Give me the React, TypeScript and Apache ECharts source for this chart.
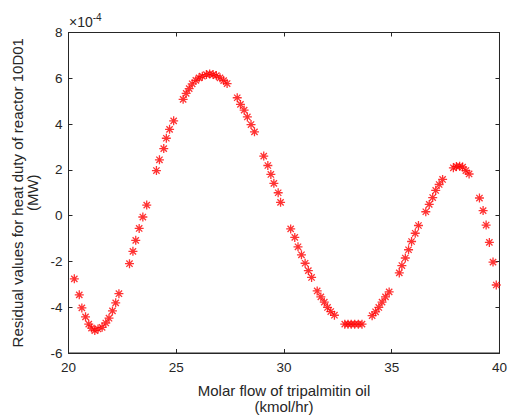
import React, { useEffect, useRef } from "react";
import * as echarts from "echarts";

// Molar flow of tripalmitin oil (kmol/hr)
const flow: number[] = [
  20.27, 20.50, 20.62, 20.79, 20.94, 21.07, 21.22, 21.37, 21.56, 21.73, 21.88, 22.04, 22.19, 22.34,
  22.83, 22.99, 23.12, 23.28, 23.45, 23.63,
  24.08, 24.22, 24.42, 24.54, 24.69, 24.88,
  25.32, 25.46, 25.60, 25.74, 25.91, 26.06, 26.21, 26.40, 26.55, 26.71, 26.86, 27.03, 27.20, 27.36,
  27.83, 27.98, 28.15, 28.30, 28.47, 28.63,
  29.06, 29.25, 29.39, 29.53, 29.73, 29.84,
  30.31, 30.50, 30.65, 30.81, 30.98, 31.13, 31.28,
  31.54, 31.71, 31.87, 32.02, 32.17, 32.34,
  32.82, 32.97, 33.12, 33.28, 33.45, 33.62,
  34.09, 34.25, 34.40, 34.55, 34.71, 34.88,
  35.35, 35.47, 35.63, 35.78, 35.92, 36.09, 36.24,
  36.58, 36.74, 36.90, 37.04, 37.20, 37.36,
  37.86, 38.00, 38.15, 38.29, 38.44, 38.59,
  39.07, 39.24, 39.38, 39.53, 39.70, 39.85,
];

// Residual values for heat duty (MW), in units of 1e-4
const residual: number[] = [
  -2.76, -3.46, -4.03, -4.42, -4.74, -4.91, -5.02, -4.95, -4.88, -4.69, -4.48, -4.16, -3.81, -3.41,
  -2.10, -1.56, -1.08, -0.56, -0.06, 0.46,
  1.97, 2.44, 2.93, 3.38, 3.77, 4.14,
  5.08, 5.34, 5.55, 5.76, 5.91, 6.02, 6.09, 6.16, 6.19, 6.16, 6.12, 6.02, 5.90, 5.77,
  5.15, 4.86, 4.61, 4.31, 3.98, 3.66,
  2.60, 2.19, 1.80, 1.41, 1.00, 0.58,
  -0.58, -0.95, -1.36, -1.71, -2.08, -2.40, -2.70,
  -3.29, -3.55, -3.78, -4.01, -4.19, -4.35,
  -4.74, -4.74, -4.74, -4.74, -4.74, -4.74,
  -4.37, -4.20, -4.01, -3.78, -3.55, -3.33,
  -2.50, -2.18, -1.85, -1.49, -1.13, -0.77, -0.43,
  0.17, 0.49, 0.79, 1.10, 1.36, 1.58,
  2.09, 2.15, 2.16, 2.12, 1.97, 1.82,
  0.77, 0.22, -0.41, -1.17, -2.03, -3.03,
];

const xTicks = { min: 20, max: 40, interval: 5 };
const yTicks = { min: -6, max: 8, interval: 2 };

const xLabel = "Molar flow of tripalmitin oil\n(kmol/hr)";
const yLabel = "Residual values for heat duty of reactor 10D01\n(MW)";

const AXIS = "#262626";
const FONT = "Liberation Sans, Arial, Helvetica, sans-serif";
const STAR = "path://M0,5 L10,5 M5,0 L5,10 M1.5,1.5 L8.5,8.5 M8.5,1.5 L1.5,8.5";

export default function App() {
  const ref = useRef<HTMLDivElement>(null);
  useEffect(() => {
    if (!ref.current) return;
    const chart = echarts.init(ref.current, undefined, { renderer: "svg" });
    const data = flow.map((x, i) => [x, residual[i]]);
    const hiddenLabel = { show: false };
    const tick = { show: true, inside: true, length: 4, lineStyle: { color: AXIS } };
    const line = { show: true, onZero: false, lineStyle: { color: AXIS } };
    chart.setOption({
      animation: false,
      backgroundColor: "#ffffff",
      textStyle: { fontFamily: FONT },
      grid: {
        left: 68.5,
        right: 8,
        top: 32.5,
        bottom: 63,
        show: true,
        borderColor: AXIS,
        borderWidth: 1,
        backgroundColor: "#ffffff",
      },
      xAxis: [
        {
          type: "value",
          min: xTicks.min,
          max: xTicks.max,
          interval: xTicks.interval,
          position: "bottom",
          axisLine: line,
          axisTick: tick,
          splitLine: { show: false },
          axisLabel: { color: AXIS, fontSize: 13.5, margin: 7, fontFamily: FONT },
          name: xLabel,
          nameLocation: "middle",
          nameGap: 29,
          nameTextStyle: { color: AXIS, fontSize: 15, lineHeight: 16, fontFamily: FONT },
        },
        {
          type: "value",
          min: xTicks.min,
          max: xTicks.max,
          interval: xTicks.interval,
          position: "top",
          axisLine: line,
          axisTick: tick,
          splitLine: { show: false },
          axisLabel: hiddenLabel,
        },
      ],
      yAxis: [
        {
          type: "value",
          min: yTicks.min,
          max: yTicks.max,
          interval: yTicks.interval,
          position: "left",
          axisLine: line,
          axisTick: tick,
          splitLine: { show: false },
          axisLabel: { color: AXIS, fontSize: 13.5, margin: 6, fontFamily: FONT },
          name: yLabel,
          nameLocation: "middle",
          nameGap: 29,
          nameTextStyle: { color: AXIS, fontSize: 15, lineHeight: 15, fontFamily: FONT },
        },
        {
          type: "value",
          min: yTicks.min,
          max: yTicks.max,
          interval: yTicks.interval,
          position: "right",
          axisLine: line,
          axisTick: tick,
          splitLine: { show: false },
          axisLabel: hiddenLabel,
        },
      ],
      graphic: [
        {
          type: "text",
          left: 69,
          top: 12,
          style: {
            text: "{a|×10}{b|-4}",
            rich: {
              a: { fontSize: 14, fill: AXIS, fontFamily: FONT, verticalAlign: "bottom" },
              b: { fontSize: 10, fill: AXIS, fontFamily: FONT, padding: [0, 0, 7, 0] },
            },
          },
        },
      ],
      series: [
        {
          type: "scatter",
          xAxisIndex: 0,
          yAxisIndex: 0,
          data,
          symbol: STAR,
          symbolSize: 9,
          itemStyle: { color: "transparent", borderColor: "#ff0000", borderWidth: 1.3 },
        },
      ],
    });
    return () => chart.dispose();
  }, []);
  return (
    <div
      ref={ref}
      style={{ position: "fixed", left: 0, top: 0, width: 510, height: 419, background: "#fff" }}
    />
  );
}
